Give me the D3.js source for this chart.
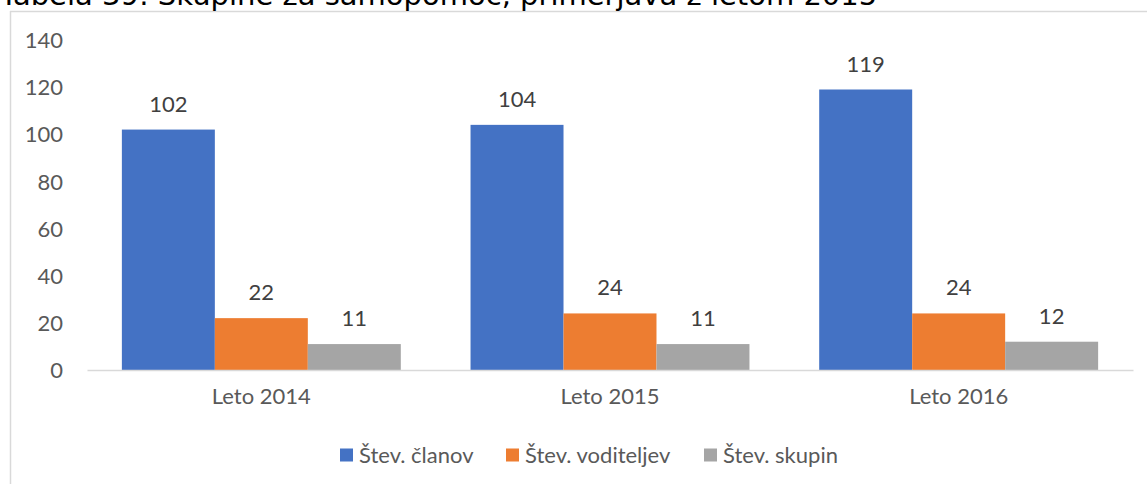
<!DOCTYPE html>
<html>
<head>
<meta charset="utf-8">
<script src="https://cdn.jsdelivr.net/npm/d3@7"></script>
<style>
  html, body { margin: 0; padding: 0; background: #fff; }
  svg { display: block; }
</style>
</head>
<body>
<svg id="chart" width="1147" height="484"></svg>
<script>
// Skupine za samopomoč po letih
const categories = ["Leto 2014", "Leto 2015", "Leto 2016"];
const seriesNames = ["Štev. članov", "Štev. voditeljev", "Štev. skupin"];
const clanov = [102, 104, 119];
const voditeljev = [22, 24, 24];
const skupin = [11, 11, 12];
const yTicks = [0, 20, 40, 60, 80, 100, 120, 140];
const titleText = "Tabela 39: Skupine za samopomoč, primerjava z letom 2015";

const colors = ["#4472C4", "#ED7D31", "#A5A5A5"];
const seriesValues = [clanov, voditeljev, skupin];
const rows = categories.map((c, i) => ({
  cat: c,
  vals: seriesNames.map((s, k) => ({ key: s, k, v: seriesValues[k][i] }))
}));

const svg = d3.select("#chart");
const W = 1147, H = 484;
const font = "Lato, 'Open Sans', sans-serif";
const fs = 22;

// Chart frame (left and top edges)
svg.append("line").attr("x1", 10.5).attr("x2", 10.5).attr("y1", 11).attr("y2", H)
  .attr("stroke", "#d9d9d9").attr("stroke-width", 1.5);
svg.append("line").attr("x1", 10).attr("x2", W).attr("y1", 11.5).attr("y2", 11.5)
  .attr("stroke", "#d9d9d9").attr("stroke-width", 1.5);

// Title sitting above the frame
svg.append("text")
  .attr("x", 0).attr("y", 5)
  .attr("font-family", "'DejaVu Sans', Verdana, sans-serif")
  .attr("font-size", 29)
  .attr("fill", "#000")
  .text(titleText);

const plotL = 87, plotR = 1133, plotB = 370, plotT = 40;

const x0 = d3.scaleBand().domain(categories).range([plotL, plotR])
  .paddingInner(0.2).paddingOuter(0.1);
const x1 = d3.scaleBand().domain(seriesNames).range([0, x0.bandwidth()]).padding(0);
const y = d3.scaleLinear().domain([0, 140]).range([plotB, plotT]);

// Y axis tick labels
const yAxis = d3.axisLeft(y).tickValues(yTicks).tickSize(0).tickPadding(0);
const yg = svg.append("g").attr("transform", `translate(63,0)`).call(yAxis);
yg.select(".domain").remove();
yg.selectAll("text")
  .attr("font-family", font).attr("font-size", fs).attr("fill", "#595959")
  .attr("dy", "0.35em");

// Bars
const groups = svg.append("g").selectAll("g").data(rows).join("g")
  .attr("transform", d => `translate(${x0(d.cat)},0)`);

groups.selectAll("rect").data(d => d.vals).join("rect")
  .attr("x", d => x1(d.key))
  .attr("width", x1.bandwidth())
  .attr("y", d => y(d.v))
  .attr("height", d => y(0) - y(d.v))
  .attr("fill", d => colors[d.k]);

// Value labels
groups.selectAll("text").data(d => d.vals).join("text")
  .attr("x", d => x1(d.key) + x1.bandwidth() / 2)
  .attr("y", d => y(d.v) - 18)
  .attr("text-anchor", "middle")
  .attr("font-family", font).attr("font-size", fs).attr("fill", "#404040")
  .text(d => d.v);

// Category axis
const xAxis = d3.axisBottom(x0).tickSize(0).tickPadding(0);
const xg = svg.append("g").attr("transform", `translate(0,${plotB})`).call(xAxis);
xg.select(".domain").attr("stroke", "#d9d9d9").attr("stroke-width", 1.5);
xg.selectAll("text")
  .attr("font-family", font).attr("font-size", fs).attr("fill", "#595959")
  .attr("y", 26).attr("dy", "0.35em");

// Legend
const legendX = [340, 506, 704];
const lg = svg.append("g").selectAll("g").data(seriesNames).join("g")
  .attr("transform", (d, i) => `translate(${legendX[i]},455)`);
lg.append("rect").attr("x", 0).attr("y", -6.5).attr("width", 13).attr("height", 13)
  .attr("fill", (d, i) => colors[i]);
lg.append("text").attr("x", 19).attr("y", 0).attr("dy", "0.35em")
  .attr("font-family", font).attr("font-size", fs).attr("fill", "#595959")
  .text(d => d);
</script>
</body>
</html>
